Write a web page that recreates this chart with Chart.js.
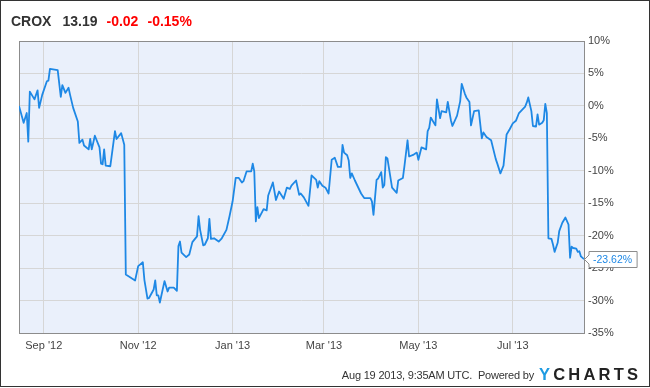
<!DOCTYPE html>
<html>
<head>
<meta charset="utf-8">
<script src="https://cdn.jsdelivr.net/npm/chart.js@4"></script>
<style>
  html, body { margin: 0; padding: 0; background: #fff; }
  #wrap { position: relative; width: 650px; height: 388px; overflow: hidden; font-family: "Liberation Sans", Arial, sans-serif; }
  #frame { position: absolute; left: 0; top: 0; width: 650px; height: 387px; box-sizing: border-box; border: 1px solid #333; pointer-events: none; }
  canvas { position: absolute; left: 0; top: 0; }
  .hd { position: absolute; top: 14px; font-weight: bold; font-size: 14px; line-height: 14px; white-space: nowrap; }
  .ft { position: absolute; white-space: nowrap; }
</style>
</head>
<body>
<div id="wrap">
  <canvas id="c" width="650" height="388"></canvas>
  <span class="hd" style="left:11px;color:#333">CROX</span>
  <span class="hd" style="left:62.5px;color:#333">13.19</span>
  <span class="hd" style="left:106.5px;color:#f00">-0.02</span>
  <span class="hd" style="left:147.5px;color:#f00">-0.15%</span>
  <span class="ft" style="right:116px;top:369.5px;font-size:11px;line-height:11px;letter-spacing:-0.2px;color:#333">Aug 19 2013, 9:35AM UTC.&nbsp; Powered by</span>
  <span class="ft" style="left:539px;top:366px;font-size:16.5px;line-height:16px;font-weight:bold;letter-spacing:3.2px"><span style="color:#1d9be2">Y</span><span style="color:#222">CHARTS</span></span>
  <div id="frame"></div>
</div>
<script>
// Day index counted from Aug 16 2012
const days = [0,3,5,6,7,10,12,13,15,18,19,20,25,27,28,30,32,33,35,38,39,41,42,45,46,47,49,52,53,54,55,56,59,62,63,66,68,
  69,75,77,80,81,83,84,87,88,89,90,91,94,96,97,100,102,103,104,105,108,110,112,115,116,117,119,120,122,123,124,126,129,131,134,136,138,
  140,142,144,145,147,150,151,152,153,154,155,158,160,161,164,166,168,171,173,175,176,179,181,182,184,187,189,192,193,194,196,198,200,
  202,204,206,208,209,210,212,213,214,215,217,221,223,227,228,229,231,232,234,235,236,237,238,241,244,245,248,249,251,252,255,257,258,
  260,263,264,265,266,269,270,272,273,276,277,279,280,283,285,286,288,289,291,292,294,297,299,300,302,305,308,309,311,313,315,317,319,
  321,323,325,327,328,329,331,332,334,335,336,338,339,340,341,342,344,345,346,348,349,351,353,355,356,357,358,360,361,362,363,365];
const values = [0.0,-2.6,-1.1,-5.5,2.2,1.0,2.4,-0.3,1.7,3.8,3.9,5.7,5.5,1.4,3.2,2.0,2.8,1.7,-0.3,-2.4,-5.7,-5.2,-6.1,-6.7,-5.1,-6.7,-4.6,-6.4,-8.9,-9.0,-6.7,-9.2,-9.3,-3.9,-5.1,-4.2,-6.0,
  -26.0,-26.9,-24.7,-24.1,-26.8,-29.7,-29.6,-28.3,-26.9,-29.2,-29.2,-30.3,-27.0,-28.6,-28.0,-28.0,-28.5,-21.6,-20.9,-22.6,-23.3,-22.9,-21.0,-20.1,-17.0,-19.1,-21.5,-21.4,-20.4,-17.4,-20.5,-20.4,-20.9,-20.4,-19.1,-17.0,-14.7,
  -11.1,-11.1,-11.8,-11.6,-10.1,-10.1,-8.9,-10.1,-17.8,-15.6,-17.3,-15.9,-16.1,-13.8,-11.8,-14.5,-13.2,-14.3,-12.6,-12.8,-12.3,-11.5,-13.7,-13.5,-14.1,-15.4,-10.7,-11.4,-12.6,-11.6,-12.3,-12.6,-13.5,
  -8.3,-8.0,-9.4,-9.4,-6.0,-7.2,-7.6,-8.4,-11.1,-10.4,-11.5,-13.5,-14.2,-14.2,-14.7,-16.8,-11.4,-11.2,-10.2,-12.6,-12.2,-7.9,-8.1,-12.6,-13.4,-11.5,-11.1,-9.3,-5.3,-7.8,-7.5,-7.2,-8.3,
  -6.4,-6.7,-3.9,-3.4,-1.8,-3.0,1.0,-1.9,-0.8,-1.0,0.6,-2.2,-3.1,-1.5,0.7,3.4,1.9,1.3,0.6,-3.0,-0.8,-0.7,-5.0,-4.1,-4.8,-5.3,-8.2,-8.9,-10.4,-9.2,-4.4,-3.6,-2.7,
  -2.3,-1.1,-0.6,-0.1,0.5,1.3,-0.8,-3.1,-3.2,-1.3,-2.9,-2.6,-2.2,0.3,-1.1,-20.4,-20.5,-21.4,-22.5,-21.1,-19.3,-18.0,-17.2,-18.3,-23.4,-21.7,-21.9,-22.0,-22.5,-22.4,-23.2,-23.62];

const tickDays = [16, 77, 138, 197, 258, 319];
const tickLabels = ["Sep '12", "Nov '12", "Jan '13", "Mar '13", "May '13", "Jul '13"];
const yTicks = [-35, -30, -25, -20, -15, -10, -5, 0, 5, 10];

const FONT = '"Liberation Sans", Arial, sans-serif';

const areaPlugin = {
  id: 'area',
  beforeDraw(chart) {
    const {ctx, chartArea: a} = chart;
    ctx.save();
    ctx.fillStyle = '#eaf0fb';
    ctx.fillRect(a.left, a.top, a.right - a.left, a.bottom - a.top);
    ctx.restore();
  },
  beforeDatasetsDraw(chart) {
    const {ctx, chartArea: a} = chart;
    ctx.save();
    ctx.strokeStyle = '#8c8c8c';
    ctx.lineWidth = 1;
    ctx.strokeRect(a.left + 0.5, a.top + 0.5, a.right - a.left, a.bottom - a.top);
    ctx.restore();
  },
  afterDatasetsDraw(chart) {
    const {ctx} = chart;
    const meta = chart.getDatasetMeta(0);
    const last = meta.data[meta.data.length - 1];
    const v = values[values.length - 1];
    const txt = v.toFixed(2) + '%';
    ctx.save();
    ctx.font = '10.5px ' + FONT;
    const w = ctx.measureText(txt).width + 9;
    const h = 16;
    const tipX = Math.round(last.x) + 0.5;
    const cy = Math.round(last.y) + 0.5;
    const bx = tipX + 4.5;
    ctx.beginPath();
    ctx.moveTo(tipX, cy);
    ctx.lineTo(bx, cy - 4.5);
    ctx.lineTo(bx, cy - h / 2);
    ctx.lineTo(bx + w, cy - h / 2);
    ctx.lineTo(bx + w, cy + h / 2);
    ctx.lineTo(bx, cy + h / 2);
    ctx.lineTo(bx, cy + 4.5);
    ctx.closePath();
    ctx.fillStyle = '#fff';
    ctx.fill();
    ctx.strokeStyle = '#8c8c8c';
    ctx.lineWidth = 1;
    ctx.stroke();
    ctx.fillStyle = '#1e88e5';
    ctx.textBaseline = 'middle';
    ctx.textAlign = 'left';
    ctx.fillText(txt, bx + 4, cy + 0.5);
    ctx.restore();
  }
};

new Chart(document.getElementById('c'), {
  type: 'line',
  data: {
    datasets: [{
      data: days.map((d, i) => ({x: d, y: values[i]})),
      borderColor: '#1e88e5',
      borderWidth: 1.8,
      pointRadius: 0,
      tension: 0,
      fill: false,
      borderJoinStyle: 'round'
    }]
  },
  options: {
    responsive: false,
    devicePixelRatio: 1,
    animation: false,
    layout: { padding: { left: 19, top: 41, right: 0, bottom: 0 } },
    plugins: { legend: { display: false }, tooltip: { enabled: false } },
    scales: {
      x: {
        type: 'linear',
        min: 0,
        max: 365,
        afterFit(s) { s.height = 55; },
        afterBuildTicks(s) { s.ticks = tickDays.map(v => ({value: v})); },
        grid: { color: '#d6d6d6', drawTicks: false },
        border: { display: false },
        ticks: {
          autoSkip: false,
          maxRotation: 0,
          padding: 6,
          color: '#444',
          font: { family: FONT, size: 11 },
          callback: (v, i) => tickLabels[i]
        }
      },
      y: {
        position: 'right',
        min: -35,
        max: 10,
        afterFit(s) { s.width = 66; },
        afterBuildTicks(s) { s.ticks = yTicks.map(v => ({value: v})); },
        grid: { color: '#d6d6d6', drawTicks: false },
        border: { display: false },
        ticks: {
          padding: 4,
          color: '#444',
          font: { family: FONT, size: 11 },
          callback: v => v + '%'
        }
      }
    }
  },
  plugins: [areaPlugin]
});
</script>
</body>
</html>
